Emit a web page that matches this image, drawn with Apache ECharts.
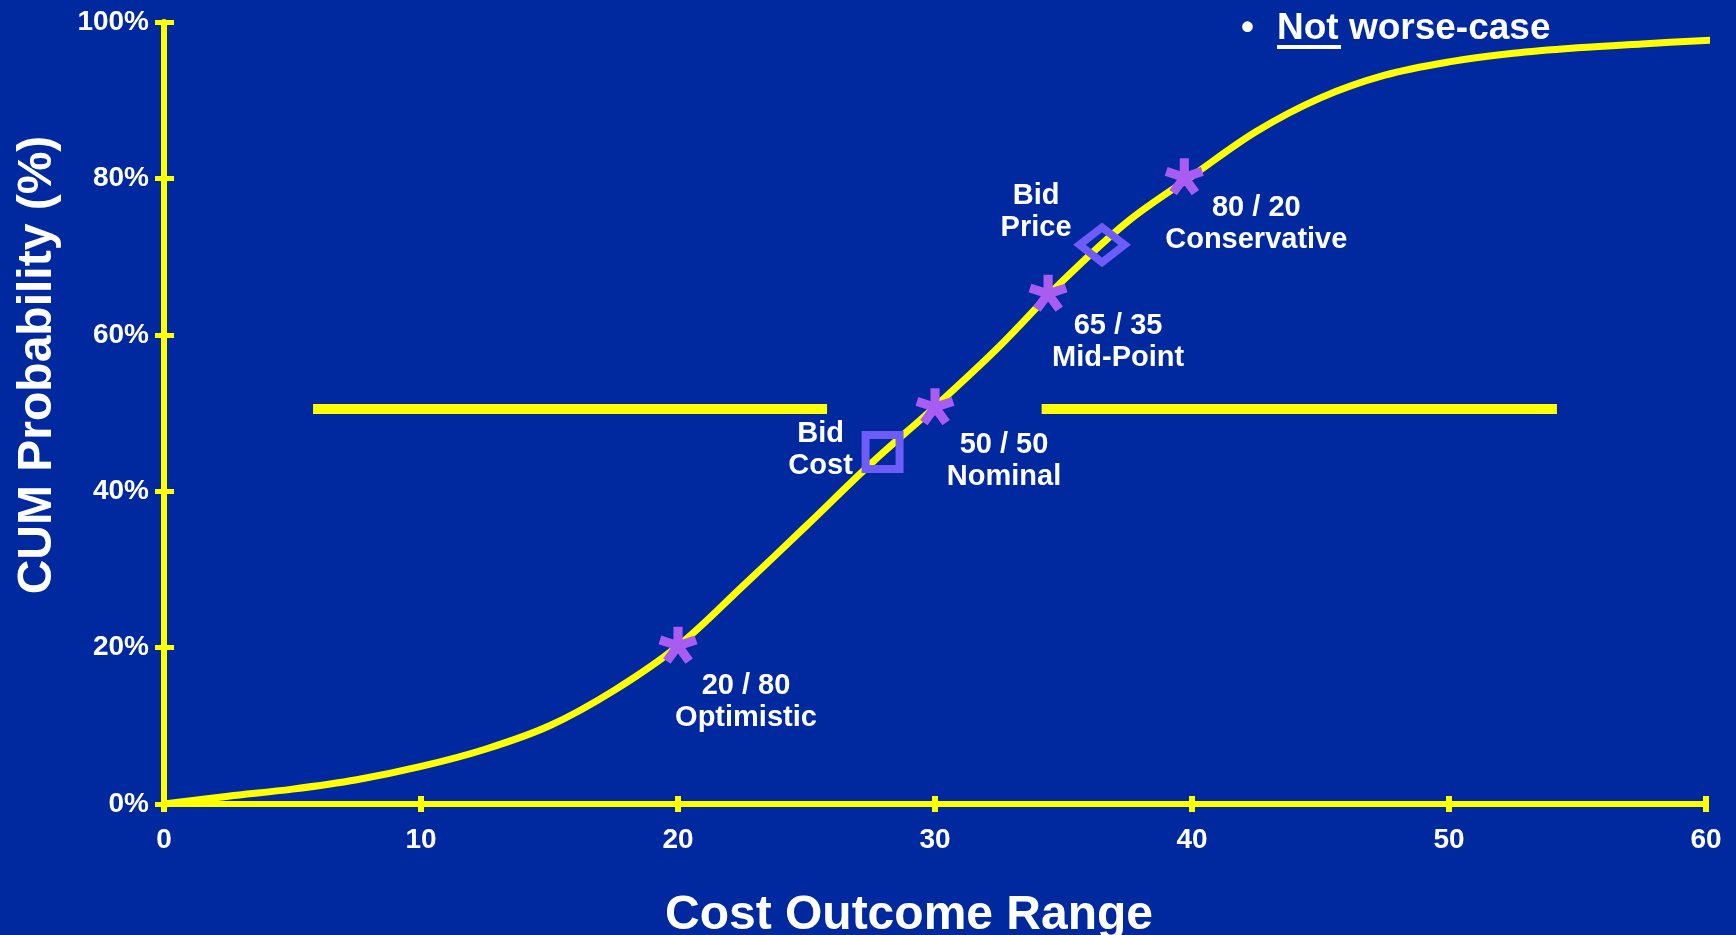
<!DOCTYPE html>
<html>
<head>
<meta charset="utf-8">
<script src="https://cdn.jsdelivr.net/npm/echarts@6/dist/echarts.min.js"></script>
<style>
  html, body { margin: 0; padding: 0; background: #00289f; }
  #chart { width: 1736px; height: 935px; }
</style>
</head>
<body>
<div id="chart"></div>
<script>
// cumulative cost curve
const costRange = [0, 2.5, 5, 7.5, 10, 12.5, 15, 17.5, 20, 22.5, 25, 27.5, 30, 32.5, 35, 37.5, 40, 42.5, 45, 47.5, 50, 52.5, 55, 57.5, 60.3]
const cumProbability = [0, 1.0, 1.9, 3.1, 4.8, 7.0, 10.0, 14.5, 20.2, 27.8, 35.6, 43.5, 50.8, 58.5, 67.0, 74.5, 80.3, 86.0, 90.3, 93.2, 94.9, 96.0, 96.7, 97.2, 97.7]

// the two 50% bars
const bandLevel = 50.5
const bandLeft = [5.8, 25.8]
const bandRight = [34.15, 54.2]

// confidence points (stars)
const pointCost = [20, 30, 34.4, 39.7]
const pointProb = [20.3, 50.8, 65.3, 80.2]
const pointLabels = ["20 / 80\nOptimistic", "50 / 50\nNominal", "65 / 35\nMid-Point", "80 / 20\nConservative"]

// bid cost / bid price
const bidCost = [27.96, 36.5]
const bidProb = [45, 71.5]
const bidLabels = ["Bid\nCost", "Bid\nPrice"]

const FONT = "'Liberation Sans', Arial, sans-serif"
const YELLOW = "#ffff00"
const BG = "#00289f"

// five-armed asterisk like the one in the slide
const asteriskPath = (() => {
  const w = 12
  let d = ""
  for (let i = 0; i < 5; i++) {
    const a = (-90 + i * 72) * Math.PI / 180
    const cx = Math.cos(a), cy = Math.sin(a)
    const px = -cy * w, py = cx * w
    const pts = [
      [50 + px, 50 + py],
      [50 + cx * 50 + px, 50 + cy * 50 + py],
      [50 + cx * 50 - px, 50 + cy * 50 - py],
      [50 - px, 50 - py],
    ]
    d += "M" + pts.map(p => p[0].toFixed(2) + " " + p[1].toFixed(2)).join("L") + "Z"
  }
  return "path://" + d
})()

const pointOffsets = [[68, 57], [69, 54], [70, 49], [72, 47]]
const bidOffsets = [[-62, -2], [-66, -33]]

const chart = echarts.init(document.getElementById("chart"))

const labelStyle = {
  color: "#ffffff",
  fontFamily: FONT,
  fontWeight: "bold",
  fontSize: 29,
  lineHeight: 32,
  align: "center",
  verticalAlign: "middle",
  textBorderWidth: 0,
  opacity: 1,
}

chart.setOption({
  backgroundColor: BG,
  animation: false,
  grid: { left: 164, right: 30, top: 22, bottom: 131, containLabel: false, outerBoundsMode: "none" },
  xAxis: [
    {
      type: "value",
      min: 0,
      max: 60,
      interval: 10,
      name: "Cost Outcome Range",
      nameLocation: "middle",
      nameGap: 88,
      nameTextStyle: { color: "#ffffff", fontFamily: FONT, fontWeight: "bold", fontSize: 48, padding: [0, 52, 0, 0] },
      axisLine: { lineStyle: { color: YELLOW, width: 6 } },
      axisTick: { show: true, inside: false, length: 8, lineStyle: { color: YELLOW, width: 6 } },
      axisLabel: { color: "#ffffff", fontFamily: FONT, fontWeight: "bold", fontSize: 28, margin: 22 },
      splitLine: { show: false },
    },
    {
      type: "value",
      min: 0,
      max: 60,
      interval: 10,
      position: "bottom",
      axisLine: { show: false },
      axisTick: { show: true, inside: true, length: 8, lineStyle: { color: YELLOW, width: 6 } },
      axisLabel: { show: false },
      splitLine: { show: false },
    },
  ],
  yAxis: [
    {
      type: "value",
      min: 0,
      max: 100,
      interval: 20,
      name: "CUM Probability (%)",
      nameLocation: "middle",
      nameGap: 102,
      nameTextStyle: { color: "#ffffff", fontFamily: FONT, fontWeight: "bold", fontSize: 48, padding: [0, 0, 0, 96] },
      axisLine: { show: true, lineStyle: { color: YELLOW, width: 6 } },
      axisTick: { show: true, inside: false, length: 9, lineStyle: { color: YELLOW, width: 5 } },
      axisLabel: { color: "#ffffff", fontFamily: FONT, fontWeight: "bold", fontSize: 28, margin: 15, formatter: "{value}%" },
      splitLine: { show: false },
    },
    {
      type: "value",
      min: 0,
      max: 100,
      interval: 20,
      position: "left",
      axisLine: { show: false },
      axisTick: { show: true, inside: true, length: 10, lineStyle: { color: YELLOW, width: 5 } },
      axisLabel: { show: false },
      splitLine: { show: false },
    },
  ],
  series: [
    {
      type: "line",
      data: bandLeft.map(x => [x, bandLevel]),
      symbol: "none",
      lineStyle: { color: YELLOW, width: 10, cap: "butt" },
      silent: true,
    },
    {
      type: "line",
      data: bandRight.map(x => [x, bandLevel]),
      symbol: "none",
      lineStyle: { color: YELLOW, width: 10, cap: "butt" },
      silent: true,
    },
    {
      type: "line",
      data: costRange.map((x, i) => [x, cumProbability[i]]),
      smooth: 0.35,
      clip: false,
      symbol: "none",
      lineStyle: { color: YELLOW, width: 7 },
    },
    {
      type: "scatter",
      data: bidCost.map((x, i) => ({
        value: [x, bidProb[i]],
        symbol: i === 0 ? "rect" : "diamond",
        symbolSize: i === 0 ? [34, 34] : [45, 35],
        label: { offset: bidOffsets[i] },
      })),
      itemStyle: { color: "rgba(0,0,0,0)", borderColor: "#6e5cf8", borderWidth: 8, opacity: 1 },
      label: { show: true, position: "inside", formatter: p => bidLabels[p.dataIndex], ...labelStyle },
      z: 5,
    },
    {
      type: "scatter",
      data: pointCost.map((x, i) => ({
        value: [x, pointProb[i]],
        label: { offset: pointOffsets[i] },
      })),
      symbol: asteriskPath,
      symbolSize: [39, 37],
      itemStyle: { color: "#a85cf2", opacity: 1 },
      label: { show: true, position: "inside", formatter: p => pointLabels[p.dataIndex], ...labelStyle },
      z: 6,
    },
  ],
  graphic: [
    {
      type: "text",
      left: 1241,
      top: 10,
      style: { text: "•", fill: "#ffffff", font: "bold 37px " + FONT },
    },
    {
      type: "text",
      left: 1277,
      top: 10,
      style: { text: "Not worse-case", fill: "#ffffff", font: "bold 37px " + FONT },
    },
    {
      type: "rect",
      left: 1277,
      top: 45,
      shape: { width: 64, height: 4 },
      style: { fill: "#ffffff" },
    },
  ],
})
</script>
</body>
</html>
